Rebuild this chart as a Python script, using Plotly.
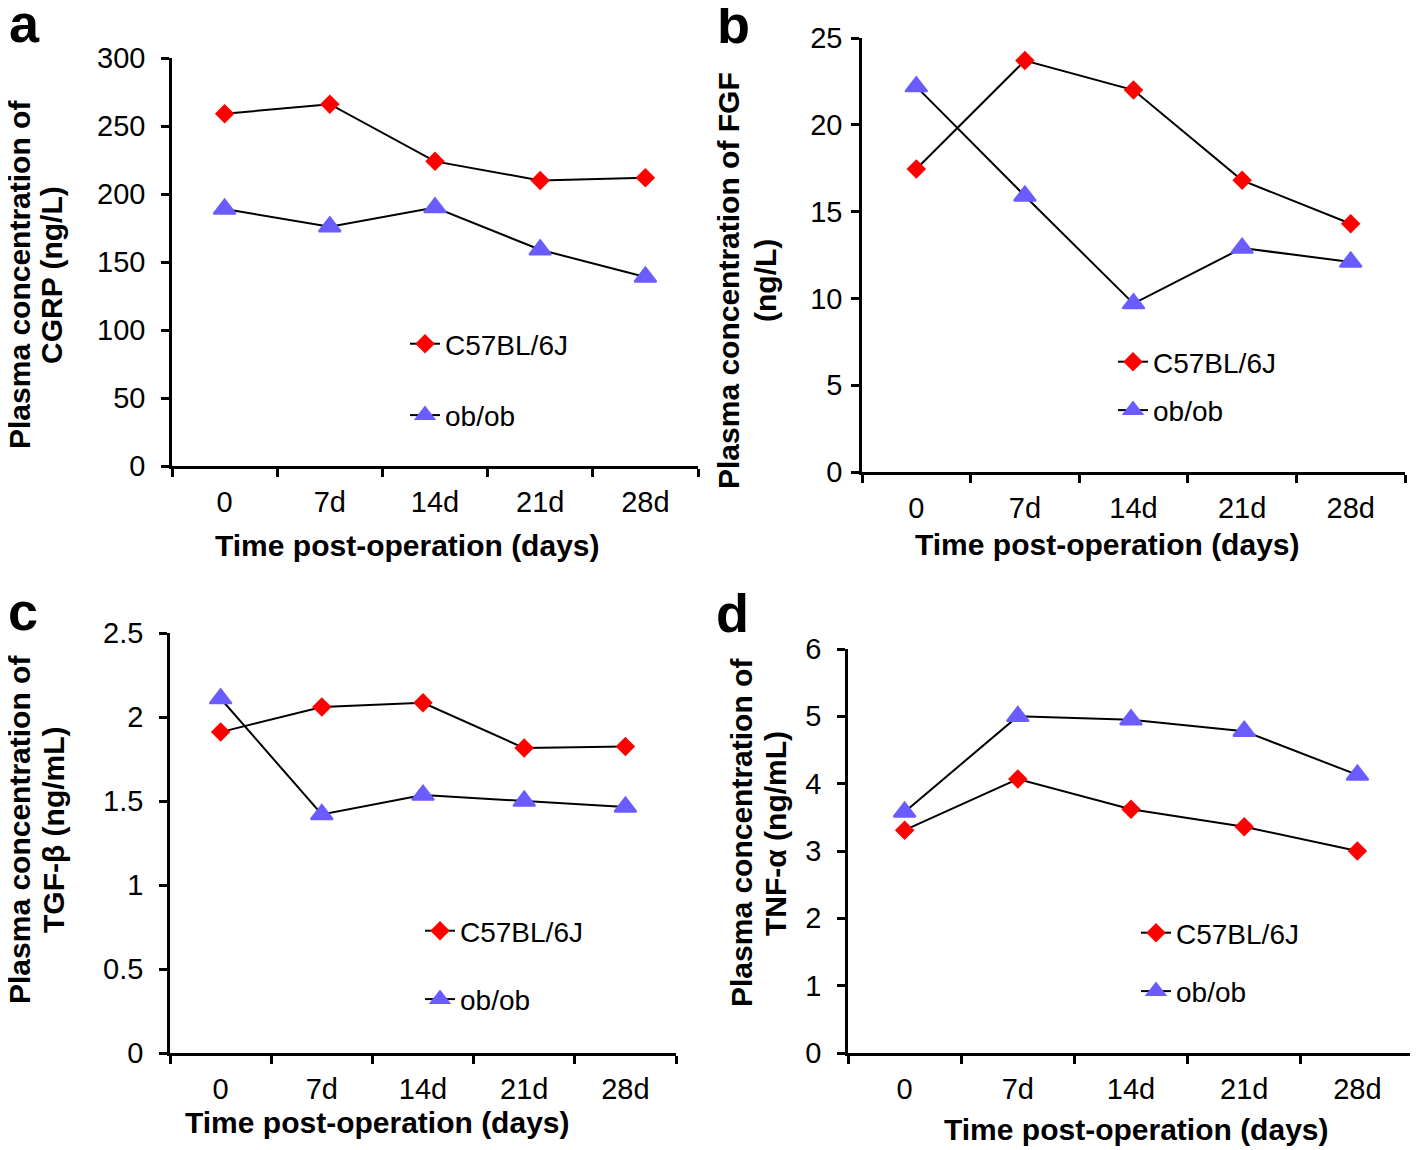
import plotly.graph_objects as go

# The page body has an 8px margin, so the figure is sized to the remaining area
OFF = 8
FW, FH = 1418 - OFF, 1150 - OFF

days = ["0", "7d", "14d", "21d", "28d"]
series_names = ["C57BL/6J", "ob/ob"]

cgrp_c57 = [259, 266, 224, 210, 212]
cgrp_ob = [189, 176, 190, 159, 139]

fgf_c57 = [17.45, 23.7, 22.0, 16.8, 14.3]
fgf_ob = [22.2, 15.9, 9.7, 12.9, 12.1]

tgf_c57 = [1.91, 2.06, 2.085, 1.815, 1.825]
tgf_ob = [2.11, 1.42, 1.535, 1.50, 1.465]

tnf_c57 = [3.31, 4.07, 3.62, 3.36, 3.0]
tnf_ob = [3.58, 5.0, 4.95, 4.78, 4.13]

panel_letters = ["a", "b", "c", "d"]
y_title_line1 = ["Plasma concentration of", "Plasma concentration of FGF",
                 "Plasma concentration of", "Plasma concentration of"]
y_title_line2 = ["CGRP (ng/L)", "(ng/L)", "TGF-β (ng/mL)", "TNF-α (ng/mL)"]
x_title = "Time post-operation (days)"

y_ranges = [(0, 300, 50), (0, 25, 5), (0, 2.5, 0.5), (0, 6, 1)]

RED = "#FF0000"
BLUE = "#6A5CFF"
FONT = "Liberation Sans, Arial, sans-serif"


def px_x(x):
    return (x - OFF) / FW


def px_y(y):
    return 1 - (y - OFF) / FH


# panel boxes in page pixels: (left, right, top, bottom)
boxes = [(172, 698, 58, 466), (862, 1405, 38, 472),
         (170, 676, 633, 1053), (848, 1414, 649, 1053)]
ylabel_standoff = [10, 3, 10, 10]

data = [(cgrp_c57, cgrp_ob), (fgf_c57, fgf_ob), (tgf_c57, tgf_ob), (tnf_c57, tnf_ob)]

# legend placement: (item-left x px, first item center y px, gap px)
legend_pos = [(405, 345, 72), (1113, 363, 49), (420, 932, 69), (1136, 934, 59)]

fig = go.Figure()
layout = dict(width=FW, height=FH, margin=dict(l=0, r=0, t=0, b=0, pad=0),
              paper_bgcolor="white", plot_bgcolor="white", autosize=False,
              font=dict(family=FONT, color="black", size=28))

annotations = []
for i in range(4):
    k = "" if i == 0 else str(i + 1)
    xa, ya = "x" + k, "y" + k
    leg = "legend" + k
    c57, ob = data[i]
    fig.add_trace(go.Scatter(x=days, y=c57, name=series_names[0], mode="lines+markers",
                             xaxis=xa, yaxis=ya, legend=leg, legendgroup="g1" + k,
                             line=dict(color="black", width=2),
                             marker=dict(symbol="diamond", size=15, color=RED)))
    fig.add_trace(go.Scatter(x=days, y=ob, name=series_names[1], mode="lines+markers",
                             xaxis=xa, yaxis=ya, legend=leg, legendgroup="g2" + k,
                             line=dict(color="black", width=2),
                             marker=dict(symbol="triangle-up", size=19, color=BLUE,
                                         line=dict(color=BLUE, width=2))))
    l, r, t, b = boxes[i]
    y0, y1, dt = y_ranges[i]
    layout["xaxis" + k] = dict(domain=[px_x(l), px_x(r)], anchor=ya, type="category",
                               range=[-0.5, 4.5], tickson="boundaries", ticks="outside",
                               ticklen=8, tickwidth=2.5, tickcolor="black",
                               showline=True, linecolor="black", linewidth=2.5,
                               showgrid=False, zeroline=False, ticklabelstandoff=8,
                               automargin=False,
                               tickfont=dict(size=29, family=FONT))
    layout["yaxis" + k] = dict(domain=[px_y(b), px_y(t)], anchor=xa,
                               range=[y0, y1], dtick=dt, tick0=0, ticks="outside",
                               ticklen=8, tickwidth=2.5, tickcolor="black",
                               showline=True, linecolor="black", linewidth=2.5,
                               showgrid=False, zeroline=False,
                               ticklabelstandoff=ylabel_standoff[i],
                               automargin=False,
                               tickfont=dict(size=29, family=FONT))
    lx, ly, gap = legend_pos[i]
    layout[leg] = dict(x=px_x(lx), y=px_y(ly - 26), xanchor="left", yanchor="top",
                       bgcolor="rgba(0,0,0,0)", borderwidth=0,
                       font=dict(size=28, family=FONT), tracegroupgap=gap - 40,
                       itemwidth=30)

ytitle_pos = [((19, 51), 275), ((728, 765), 281), ((19, 53), 830), ((741, 775), 833)]
xtitle_pos = [(407, 545), (1107, 544), (377, 1122), (1136, 1129)]
letter_pos = [(24, 23), (733, 24), (23, 611), (732, 613)]
for i in range(4):
    (x1, x2), yc = ytitle_pos[i]
    for txt, xx in ((y_title_line1[i], x1), (y_title_line2[i], x2)):
        annotations.append(dict(text="<b>%s</b>" % txt, x=px_x(xx), y=px_y(yc),
                                xref="paper", yref="paper", showarrow=False,
                                textangle=-90, xanchor="center", yanchor="middle",
                                font=dict(size=30, family=FONT)))
    xx, yy = xtitle_pos[i]
    annotations.append(dict(text="<b>%s</b>" % x_title, x=px_x(xx), y=px_y(yy),
                            xref="paper", yref="paper", showarrow=False,
                            xanchor="center", yanchor="middle",
                            font=dict(size=30, family=FONT)))
    lx, ly = letter_pos[i]
    annotations.append(dict(text="<b>%s</b>" % panel_letters[i], x=px_x(lx), y=px_y(ly),
                            xref="paper", yref="paper", showarrow=False,
                            xanchor="center", yanchor="middle",
                            font=dict(size=54, family=FONT)))

layout["annotations"] = annotations
fig.update_layout(**layout)
fig.write_html("out.html")
